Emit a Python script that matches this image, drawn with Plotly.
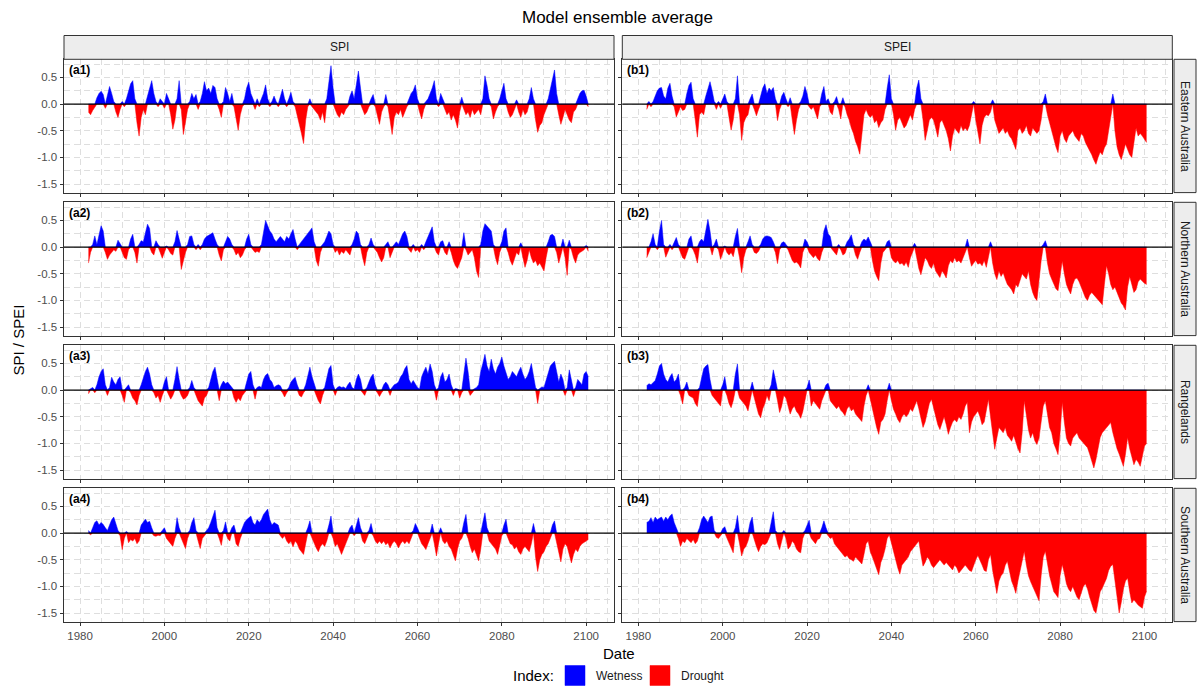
import numpy as np
import plotly.graph_objects as go

# ---------------- data (half-year steps starting 1982.0) ----------------
START_YEAR = 1982.0
STEP_YEARS = 0.5

INDICES = ["SPI", "SPEI"]
REGIONS = ["Eastern Australia", "Northern Australia", "Rangelands", "Southern Australia"]
PANEL_TAGS = [["(a1)", "(b1)"], ["(a2)", "(b2)"], ["(a3)", "(b3)"], ["(a4)", "(b4)"]]
X_TICKS = [1980, 2000, 2020, 2040, 2060, 2080, 2100]
Y_TICKS = [-1.5, -1.0, -0.5, 0.0, 0.5]
LEGEND_TITLE = "Index:"
LEGEND_LABELS = ["Wetness", "Drought"]

spi_eastern = [
    -0.15, -0.20, -0.12, -0.05, 0.12, 0.20, 0.24, 0.18, -0.08, 0.15, 0.33, 0.20, 0.05, -0.15, -0.25, -0.10,
    0.05, -0.05, 0.10, 0.25, 0.38, 0.44, 0.10, -0.35, -0.60, -0.25, -0.10, -0.20, 0.15, 0.30, 0.44, 0.20, 0.05, -0.05, 0.10, 0.05,
    -0.08, 0.20, 0.10, -0.20, -0.47, -0.30, 0.10, 0.44, -0.10, -0.57, -0.30, -0.10, 0.05, 0.20, 0.10, 0.18, -0.10, 0.05, 0.20, 0.42,
    0.25, 0.30, 0.20, 0.35, 0.31, 0.10, -0.10, -0.25, 0.05, 0.31, 0.20, 0.05, 0.20, -0.05, -0.30, -0.49, -0.20, -0.05, 0.10, 0.30,
    0.41, 0.20, 0.10, -0.10, 0.10, -0.05, 0.10, 0.20, 0.36, 0.10, -0.05, 0.05, 0.15, 0.05, -0.05, 0.15, 0.28, 0.10, -0.05, 0.10,
    0.22, 0.05, -0.05, -0.20, -0.35, -0.55, -0.74, -0.30, -0.05, 0.10, -0.05, -0.10, -0.15, -0.20, -0.30, -0.15, -0.35, 0.10, 0.45, 0.72,
    0.30, -0.10, -0.20, -0.25, -0.15, -0.20, -0.10, -0.05, 0.15, 0.25, 0.10, 0.35, 0.62, 0.30, -0.10, -0.20, -0.15, -0.05, 0.10, 0.18,
    -0.05, -0.20, -0.38, -0.15, -0.05, 0.18, -0.05, -0.30, -0.57, -0.25, -0.15, -0.20, -0.10, -0.25, -0.15, -0.05, 0.10, 0.20, 0.25, 0.36,
    0.10, -0.15, -0.28, -0.10, 0.05, 0.10, 0.20, 0.30, 0.44, 0.10, -0.05, 0.20, 0.10, -0.10, -0.20, -0.15, -0.30, -0.20, -0.30, -0.45,
    -0.15, 0.13, -0.10, -0.20, -0.15, -0.25, -0.10, -0.20, -0.15, -0.10, -0.20, 0.10, 0.53, 0.35, 0.10, -0.05, -0.28, -0.15, -0.05, 0.10,
    0.25, 0.39, 0.10, -0.15, -0.25, -0.20, -0.10, 0.08, -0.15, -0.25, -0.10, -0.20, -0.15, 0.10, 0.31, 0.10, -0.30, -0.53, -0.40, -0.35,
    -0.20, -0.10, 0.10, 0.30, 0.45, 0.64, 0.20, -0.20, -0.38, -0.25, -0.10, -0.20, -0.30, -0.35, -0.15, -0.10, 0.10, 0.20, 0.25, 0.26,
    0.15, -0.05,
]

spei_eastern = [
    -0.10, 0.05, -0.05, 0.05, 0.15, 0.25, 0.30, 0.31, 0.15, 0.10, 0.30, 0.39, 0.15, -0.05, -0.24, -0.15,
    -0.05, -0.12, -0.10, 0.20, 0.35, 0.41, 0.10, -0.30, -0.62, -0.20, -0.15, -0.20, 0.15, 0.30, 0.42, 0.25, 0.05, -0.10, 0.05, -0.08,
    0.10, 0.19, 0.05, -0.25, -0.49, -0.30, 0.10, 0.53, -0.20, -0.68, -0.35, -0.25, -0.20, 0.10, 0.19, -0.10, -0.22, -0.10, 0.15, 0.30,
    0.38, 0.20, 0.30, 0.25, 0.31, 0.10, -0.31, -0.10, 0.15, 0.22, 0.10, -0.05, 0.12, -0.30, -0.57, -0.30, -0.10, 0.05, 0.15, 0.33,
    0.20, -0.05, -0.10, -0.05, -0.15, -0.28, -0.05, 0.20, 0.33, 0.05, 0.10, -0.15, -0.20, 0.05, 0.14, -0.10, -0.28, 0.12, -0.05, -0.20,
    -0.30, -0.45, -0.55, -0.70, -0.80, -0.94, -0.50, -0.20, -0.10, -0.20, -0.25, -0.20, -0.35, -0.30, -0.44, -0.35, -0.30, -0.10, 0.30, 0.55,
    0.10, -0.20, -0.49, -0.30, -0.25, -0.35, -0.45, -0.40, -0.30, -0.20, -0.30, -0.10, 0.30, 0.45, 0.10, -0.30, -0.68, -0.50, -0.30, -0.25,
    -0.30, -0.45, -0.62, -0.35, -0.30, -0.40, -0.50, -0.65, -0.88, -0.60, -0.45, -0.50, -0.55, -0.40, -0.50, -0.45, -0.50, -0.40, -0.20, 0.05,
    -0.30, -0.55, -0.75, -0.40, -0.25, -0.20, -0.22, -0.15, 0.08, -0.30, -0.45, -0.55, -0.50, -0.45, -0.55, -0.50, -0.60, -0.65, -0.75, -0.85,
    -0.50, -0.45, -0.55, -0.50, -0.40, -0.55, -0.60, -0.45, -0.50, -0.55, -0.50, -0.30, 0.05, 0.19, -0.20, -0.35, -0.50, -0.70, -0.80, -0.91,
    -0.60, -0.50, -0.65, -0.72, -0.60, -0.55, -0.50, -0.60, -0.65, -0.70, -0.55, -0.60, -0.72, -0.80, -0.85, -0.95, -1.05, -1.13, -1.00, -0.90,
    -0.95, -0.82, -0.75, -0.50, -0.20, 0.19, -0.50, -0.80, -0.95, -1.04, -0.90, -0.75, -0.85, -0.95, -1.00, -0.70, -0.45, -0.60, -0.55, -0.60,
    -0.65, -0.72,
]

spi_northern = [
    -0.30, -0.10, 0.05, 0.21, 0.05, 0.20, 0.40, 0.30, -0.10, -0.23, -0.15, -0.10, -0.05, -0.08, 0.13, 0.05,
    -0.10, -0.20, -0.23, -0.05, 0.15, 0.24, -0.10, -0.30, 0.05, 0.12, 0.10, 0.25, 0.43, 0.35, -0.10, -0.15, 0.12, 0.05, -0.10, -0.21,
    -0.10, 0.02, -0.05, -0.12, -0.15, 0.10, 0.31, 0.15, -0.42, -0.25, -0.10, 0.05, 0.20, 0.21, 0.05, -0.05, 0.05, -0.05, 0.05, 0.15,
    0.20, 0.22, 0.25, 0.27, 0.15, 0.05, -0.15, -0.26, -0.05, 0.10, 0.20, 0.15, 0.05, -0.05, -0.15, -0.10, -0.20, -0.15, -0.05, 0.15,
    0.24, 0.05, -0.05, -0.10, -0.08, -0.10, 0.05, 0.30, 0.50, 0.40, 0.30, 0.25, 0.15, 0.10, 0.15, 0.20, 0.15, 0.10, 0.20, 0.15,
    0.25, 0.33, 0.15, -0.05, 0.05, 0.10, 0.15, 0.20, 0.25, 0.30, 0.36, 0.10, -0.25, -0.36, -0.10, 0.05, 0.10, 0.20, 0.30, 0.25,
    0.05, -0.10, -0.05, -0.15, -0.08, -0.12, -0.05, -0.10, -0.15, 0.05, 0.15, 0.30, 0.25, 0.05, -0.20, -0.35, -0.10, 0.05, 0.17, 0.05,
    -0.05, -0.10, -0.20, -0.28, -0.20, 0.05, 0.10, -0.20, -0.10, 0.05, 0.10, 0.05, 0.15, 0.25, 0.30, 0.20, -0.05, -0.10, 0.05, -0.08,
    -0.05, -0.10, 0.05, -0.05, 0.10, 0.20, 0.30, 0.38, 0.10, -0.10, -0.15, 0.10, 0.12, -0.10, -0.15, 0.10, -0.10, -0.25, -0.35, -0.40,
    -0.30, -0.20, 0.27, -0.05, -0.15, -0.10, -0.05, -0.20, -0.45, -0.57, 0.05, 0.30, 0.44, 0.40, 0.35, 0.30, 0.05, -0.20, -0.33, -0.10,
    0.10, 0.30, 0.36, -0.10, -0.25, -0.34, -0.20, -0.10, -0.15, 0.08, -0.20, -0.38, -0.25, -0.05, -0.20, -0.30, -0.25, -0.35, -0.30, -0.38,
    -0.45, -0.20, 0.10, 0.22, 0.24, 0.20, -0.10, -0.30, -0.15, 0.15, -0.20, -0.53, 0.13, -0.05, -0.20, -0.30, -0.15, -0.10, -0.08, -0.05,
    0.03, -0.08,
]

spei_northern = [
    -0.20, -0.10, 0.10, 0.25, 0.05, -0.05, 0.30, 0.50, 0.05, -0.19, -0.10, 0.05, -0.05, 0.10, 0.18, 0.05,
    -0.10, -0.20, -0.23, -0.10, 0.15, 0.21, -0.05, -0.15, -0.30, 0.10, 0.15, 0.10, 0.30, 0.52, 0.30, -0.15, 0.05, 0.15, -0.05, -0.23,
    -0.10, 0.02, -0.10, -0.15, -0.10, -0.18, 0.20, 0.35, -0.20, -0.48, -0.20, -0.05, 0.10, 0.21, 0.05, -0.10, -0.12, -0.08, 0.05, 0.15,
    0.20, 0.21, 0.20, 0.18, 0.10, -0.10, -0.31, -0.05, 0.08, 0.10, 0.05, -0.05, -0.15, -0.25, -0.30, -0.28, -0.32, -0.39, -0.10, 0.15,
    0.10, -0.10, -0.15, -0.20, -0.15, -0.22, -0.26, -0.10, 0.30, 0.42, 0.25, 0.20, -0.05, -0.10, -0.15, 0.05, -0.05, -0.15, -0.12, 0.10,
    0.15, 0.23, 0.05, -0.15, -0.23, -0.10, 0.10, 0.15, 0.12, 0.19, 0.10, -0.25, -0.45, -0.55, -0.63, -0.30, -0.10, -0.05, 0.10, 0.13,
    -0.20, -0.26, -0.30, -0.25, -0.32, -0.30, -0.35, -0.28, -0.38, -0.20, -0.10, 0.07, -0.20, -0.40, -0.52, -0.35, -0.20, -0.25, -0.35, -0.40,
    -0.30, -0.45, -0.50, -0.57, -0.45, -0.50, -0.58, -0.35, -0.25, -0.30, -0.20, -0.28, -0.25, -0.30, -0.20, -0.10, 0.15, -0.20, -0.36, -0.30,
    -0.25, -0.32, -0.30, -0.35, -0.25, -0.38, -0.20, 0.10, -0.30, -0.50, -0.61, -0.45, -0.55, -0.48, -0.60, -0.70, -0.75, -0.80, -0.88, -0.70,
    -0.75, -0.60, -0.50, -0.55, -0.60, -0.45, -0.70, -0.85, -0.95, -1.00, -0.60, -0.26, 0.05, 0.12, -0.30, -0.50, -0.60, -0.70, -0.78, -0.82,
    -0.50, -0.26, -0.50, -0.70, -0.80, -0.88, -0.70, -0.60, -0.58, -0.65, -0.75, -0.85, -0.95, -1.00, -0.90, -0.85, -0.90, -0.95, -1.00, -1.05,
    -1.08, -0.70, -0.35, -0.50, -0.70, -0.80, -0.75, -0.85, -0.95, -1.05, -1.10, -1.18, -0.75, -0.55, -0.70, -0.85, -0.80, -0.65, -0.60, -0.65,
    -0.68, -0.70,
]

spi_rangelands = [
    -0.07, 0.03, 0.05, -0.05, 0.10, 0.25, 0.35, 0.40, 0.10, -0.10, 0.05, 0.24, 0.15, 0.10, 0.20, 0.25,
    -0.10, -0.23, 0.05, 0.10, -0.05, -0.15, -0.20, -0.28, -0.10, 0.10, 0.25, 0.35, 0.43, 0.30, 0.10, -0.05, -0.15, -0.10, -0.23, -0.10,
    0.15, 0.25, -0.10, -0.17, -0.10, 0.20, 0.44, 0.20, -0.10, -0.17, -0.15, -0.10, 0.05, 0.18, 0.05, -0.10, -0.20, -0.25, -0.30, -0.15,
    -0.10, 0.05, 0.20, 0.35, 0.43, 0.20, -0.20, 0.10, 0.17, 0.12, 0.15, 0.10, 0.05, -0.15, -0.23, -0.15, -0.20, -0.10, -0.05, 0.15,
    0.30, 0.35, 0.10, -0.17, 0.05, 0.07, 0.05, 0.20, 0.28, 0.31, 0.20, 0.15, 0.05, 0.08, 0.10, 0.08, -0.05, -0.13, -0.05, 0.05,
    0.15, 0.20, 0.24, 0.10, -0.10, -0.13, -0.05, 0.10, 0.30, 0.43, 0.25, 0.10, -0.10, -0.20, -0.26, -0.10, 0.05, 0.20, 0.40, 0.46,
    0.10, -0.10, 0.05, 0.07, 0.05, 0.06, 0.03, 0.10, 0.15, 0.05, 0.02, 0.20, 0.30, 0.20, -0.05, -0.10, 0.05, 0.15, 0.25, 0.30,
    0.10, -0.05, -0.12, -0.05, 0.10, 0.15, 0.10, -0.10, 0.05, 0.10, 0.12, 0.15, 0.25, 0.30, 0.40, 0.46, 0.20, 0.12, 0.18, 0.10,
    0.05, 0.02, 0.25, 0.35, 0.43, 0.30, 0.49, 0.35, 0.10, -0.19, 0.05, 0.25, 0.33, 0.15, 0.20, 0.30, 0.10, -0.10, 0.03, 0.02,
    -0.15, -0.05, 0.30, 0.60, 0.35, -0.10, -0.05, 0.02, 0.05, 0.10, 0.35, 0.50, 0.67, 0.45, 0.35, 0.58, 0.40, 0.30, 0.43, 0.50,
    0.62, 0.45, 0.30, 0.20, 0.25, 0.35, 0.30, 0.25, 0.35, 0.43, 0.30, 0.20, 0.25, 0.35, 0.50, 0.30, 0.05, -0.25, 0.03, 0.06,
    0.05, 0.20, 0.35, 0.45, 0.50, 0.54, 0.35, 0.15, 0.30, 0.20, -0.10, 0.05, 0.38, 0.20, -0.12, 0.05, 0.20, 0.15, 0.10, 0.30,
    0.35, 0.25,
]

spei_rangelands = [
    0.08, 0.12, 0.10, 0.15, 0.18, 0.30, 0.45, 0.50, 0.30, 0.20, 0.15, 0.25, 0.31, 0.15, 0.20, 0.30,
    -0.10, -0.26, 0.05, 0.15, -0.10, -0.12, -0.15, -0.25, -0.31, 0.05, 0.25, 0.40, 0.45, 0.48, 0.20, -0.10, -0.15, -0.20, -0.25, -0.30,
    0.10, 0.25, -0.10, -0.25, -0.33, -0.20, 0.30, 0.49, -0.15, -0.20, -0.25, -0.30, -0.39, -0.20, 0.15, -0.15, -0.30, -0.45, -0.52, -0.35,
    -0.25, -0.10, -0.20, 0.10, 0.38, 0.20, -0.20, -0.42, -0.30, -0.10, -0.15, -0.30, -0.45, -0.35, -0.30, -0.40, -0.45, -0.53, -0.40, -0.20,
    0.05, 0.19, -0.30, -0.20, -0.25, -0.30, -0.36, -0.20, -0.10, 0.10, 0.13, -0.20, -0.25, -0.30, -0.35, -0.30, -0.38, -0.42, -0.48, -0.35,
    -0.30, -0.39, -0.35, -0.45, -0.50, -0.55, -0.59, -0.30, -0.10, 0.10, -0.17, -0.40, -0.55, -0.70, -0.83, -0.60, -0.55, -0.45, -0.20, 0.13,
    -0.20, -0.36, -0.45, -0.55, -0.61, -0.50, -0.45, -0.50, -0.45, -0.35, -0.40, -0.30, -0.20, -0.35, -0.50, -0.70, -0.60, -0.40, -0.25, -0.17,
    -0.35, -0.50, -0.65, -0.74, -0.60, -0.50, -0.65, -0.83, -0.70, -0.60, -0.55, -0.60, -0.50, -0.55, -0.45, -0.30, -0.23, -0.80, -0.60, -0.50,
    -0.45, -0.39, -0.50, -0.65, -0.60, -0.40, -0.17, -0.50, -0.80, -1.11, -0.90, -0.70, -0.75, -0.80, -0.70, -0.85, -0.90, -0.96, -0.85, -1.00,
    -1.10, -1.18, -0.80, -0.20, -0.50, -0.75, -0.90, -0.80, -0.95, -1.02, -0.90, -0.60, -0.30, -0.20, -0.50, -0.70, -0.80, -1.00, -1.10, -1.21,
    -0.80, -0.23, -0.60, -0.90, -1.00, -1.05, -0.90, -0.85, -0.80, -0.90, -0.95, -1.00, -1.05, -1.08, -1.20, -1.35, -1.46, -1.30, -1.10, -0.89,
    -0.80, -0.75, -0.70, -0.65, -0.61, -0.80, -0.96, -1.10, -1.20, -1.30, -1.43, -1.20, -0.89, -1.10, -1.25, -1.40, -1.30, -1.35, -1.43, -1.20,
    -1.05, -1.00,
]

spi_southern = [
    0.05, -0.03, 0.10, 0.20, 0.23, 0.15, 0.20, 0.16, 0.10, 0.05, 0.15, 0.25, 0.30, 0.15, 0.05, -0.05,
    -0.31, -0.10, 0.03, -0.18, -0.12, -0.15, -0.10, -0.20, -0.15, 0.15, 0.20, 0.26, 0.20, 0.22, 0.10, -0.05, -0.06, -0.04, -0.05, 0.05,
    0.10, -0.10, -0.15, -0.20, -0.25, -0.10, 0.29, 0.10, -0.10, -0.20, -0.29, -0.10, 0.05, 0.20, 0.29, 0.05, -0.15, -0.29, -0.10, -0.05,
    0.05, 0.10, 0.20, 0.30, 0.43, 0.10, -0.10, -0.23, 0.05, 0.21, -0.10, -0.15, 0.10, 0.15, -0.20, -0.25, -0.10, 0.10, 0.20, 0.25,
    0.28, 0.32, 0.20, 0.15, 0.25, 0.20, 0.25, 0.35, 0.40, 0.45, 0.25, 0.15, 0.20, 0.18, 0.15, -0.05, -0.10, -0.05, -0.15, -0.20,
    -0.15, -0.26, -0.15, -0.20, -0.30, -0.35, -0.40, -0.20, 0.10, 0.23, -0.10, -0.20, -0.28, -0.35, -0.25, -0.20, -0.25, -0.15, 0.15, 0.32,
    -0.10, -0.25, -0.20, -0.30, -0.40, -0.30, -0.20, -0.10, 0.10, 0.15, -0.05, 0.15, 0.29, 0.10, -0.15, -0.20, -0.10, 0.05, 0.18, -0.05,
    -0.15, -0.20, -0.15, -0.20, -0.15, -0.22, -0.18, -0.28, -0.20, -0.15, -0.20, -0.28, -0.20, -0.15, -0.20, -0.15, -0.20, -0.10, 0.05, 0.18,
    0.10, -0.10, -0.20, -0.25, -0.31, -0.20, -0.10, 0.17, -0.20, -0.43, -0.20, 0.10, -0.15, -0.20, -0.15, -0.25, -0.30, -0.40, -0.52, -0.30,
    -0.15, -0.10, 0.20, 0.35, -0.10, -0.25, -0.37, -0.30, -0.40, -0.52, -0.30, 0.20, 0.38, 0.10, -0.15, -0.20, -0.25, -0.30, -0.40, -0.20,
    -0.05, 0.15, 0.26, -0.10, -0.20, -0.22, -0.30, -0.25, -0.35, -0.40, -0.30, -0.25, -0.30, -0.35, -0.20, 0.18, -0.45, -0.72, -0.50, -0.40,
    -0.35, -0.25, -0.20, -0.10, 0.15, 0.23, -0.20, -0.35, -0.54, -0.30, -0.20, -0.25, -0.40, -0.56, -0.40, -0.30, -0.35, -0.25, -0.20, -0.18,
    -0.15, -0.12,
]

spei_southern = [
    0.20, 0.22, 0.29, 0.20, 0.30, 0.25, 0.28, 0.30, 0.22, 0.30, 0.25, 0.32, 0.36, 0.20, 0.10, -0.10,
    -0.25, -0.15, -0.18, -0.10, -0.15, -0.18, -0.12, -0.20, -0.15, 0.10, 0.25, 0.32, 0.25, 0.20, 0.30, 0.32, 0.05, -0.08, -0.10, -0.05,
    0.08, 0.12, -0.10, -0.20, -0.30, -0.37, 0.10, 0.33, -0.20, -0.43, -0.30, -0.25, -0.15, 0.20, 0.30, -0.15, -0.25, -0.35, -0.25, -0.20,
    -0.22, -0.18, -0.10, 0.20, 0.40, 0.05, -0.20, -0.31, -0.15, 0.05, -0.10, -0.30, -0.25, -0.15, -0.20, -0.30, -0.35, -0.37, -0.10, 0.05,
    0.15, 0.24, -0.10, -0.15, -0.20, -0.12, -0.10, 0.10, 0.23, 0.10, -0.05, -0.10, -0.08, -0.20, -0.25, -0.30, -0.37, -0.40, -0.45, -0.42,
    -0.48, -0.50, -0.53, -0.45, -0.50, -0.55, -0.58, -0.40, -0.20, -0.15, -0.35, -0.45, -0.55, -0.65, -0.78, -0.55, -0.45, -0.30, -0.10, -0.03,
    -0.20, -0.35, -0.50, -0.65, -0.77, -0.60, -0.55, -0.50, -0.45, -0.35, -0.30, -0.25, -0.20, -0.15, -0.40, -0.62, -0.55, -0.45, -0.50, -0.60,
    -0.65, -0.60, -0.55, -0.50, -0.55, -0.60, -0.55, -0.60, -0.65, -0.69, -0.60, -0.65, -0.75, -0.70, -0.65, -0.60, -0.65, -0.70, -0.72, -0.60,
    -0.50, -0.42, -0.50, -0.60, -0.70, -0.72, -0.50, -0.40, -0.70, -0.95, -1.13, -0.90, -0.80, -0.75, -0.60, -0.53, -0.70, -0.90, -1.00, -1.13,
    -0.90, -0.70, -0.50, -0.34, -0.60, -0.80, -0.91, -1.00, -1.10, -1.20, -1.27, -0.80, -0.45, -0.34, -0.60, -0.80, -0.95, -1.10, -1.15, -1.21,
    -0.80, -0.59, -0.75, -0.95, -1.05, -1.10, -1.00, -1.10, -1.20, -1.25, -1.10, -1.00, -0.95, -1.05, -1.20, -1.35, -1.45, -1.50, -1.30, -1.10,
    -1.03, -0.95, -0.85, -0.70, -0.62, -0.59, -0.90, -1.20, -1.50, -1.30, -1.05, -0.90, -0.84, -1.10, -1.31, -1.25, -1.31, -1.35, -1.38, -1.41,
    -1.20, -1.09,
]

SERIES = [
    [spi_eastern, spei_eastern],
    [spi_northern, spei_northern],
    [spi_rangelands, spei_rangelands],
    [spi_southern, spei_southern],
]

# ---------------- styling / layout ----------------
W, H = 1202, 688
FONT = "Liberation Sans, Arial, Helvetica, sans-serif"
BLUE = "#0000FF"
RED = "#FF0000"
GRID = "#DEDEDE"
BORDER = "#333333"
STRIP_FILL = "#EDEDED"

COL_X = [(64.0, 614.0), (622.3, 1172.3)]
ROW_Y = [(59.3, 192.6), (202.3, 335.6), (345.3, 478.6), (488.3, 621.6)]
TOP_STRIP_Y = (35.5, 59.3)
RIGHT_STRIP_X = (1174.0, 1196.0)
X_RANGE = [1976.2, 2106.6]
Y_RANGE = [-1.66, 0.84]


def fx(px):
    return px / W


def fy(py):
    return 1 - py / H


fig = go.Figure()
shapes = []
annotations = []
layout_axes = {}

for r in range(4):
    for c in range(2):
        n = r * 2 + c + 1
        sfx = "" if n == 1 else str(n)
        xa, ya = "x" + sfx, "y" + sfx
        vals = np.array(SERIES[r][c], dtype=float)
        t = START_YEAR + STEP_YEARS * np.arange(len(vals))
        pos = np.clip(vals, 0, None)
        neg = np.clip(vals, None, 0)
        fig.add_trace(go.Scatter(x=t, y=neg, mode="lines", fill="tozeroy",
                                 fillcolor=RED, line=dict(color=RED, width=0.5),
                                 xaxis=xa, yaxis=ya, showlegend=False, hoverinfo="skip"))
        fig.add_trace(go.Scatter(x=t, y=pos, mode="lines", fill="tozeroy",
                                 fillcolor=BLUE, line=dict(color=BLUE, width=0.5),
                                 xaxis=xa, yaxis=ya, showlegend=False, hoverinfo="skip"))

        x0, x1 = COL_X[c]
        y0, y1 = ROW_Y[r]
        layout_axes["xaxis" + sfx] = dict(
            domain=[fx(x0), fx(x1)], anchor=ya, range=X_RANGE,
            tickmode="array", tickvals=X_TICKS, ticktext=[str(v) for v in X_TICKS],
            showticklabels=(r == 3), ticks="outside", ticklen=3.5, tickwidth=1,
            tickcolor=BORDER, tickfont=dict(family=FONT, size=11.5, color="#4D4D4D"),
            showgrid=True, gridcolor=GRID, gridwidth=0.8, griddash="6px,4px",
            minor=dict(tick0=1980, dtick=5, showgrid=True, gridcolor=GRID,
                       gridwidth=0.6, griddash="6px,4px"),
            showline=True, mirror=True, linecolor=BORDER, linewidth=1,
            zeroline=False,
        )
        layout_axes["yaxis" + sfx] = dict(
            domain=[fy(y1), fy(y0)], anchor=xa, range=Y_RANGE,
            tickmode="array", tickvals=Y_TICKS, ticktext=[f"{v:.1f}" for v in Y_TICKS],
            showticklabels=(c == 0), ticks="outside", ticklen=3.5, tickwidth=1,
            tickcolor=BORDER, tickfont=dict(family=FONT, size=11.5, color="#4D4D4D"),
            showgrid=True, gridcolor=GRID, gridwidth=0.8, griddash="6px,4px",
            minor=dict(tick0=0, dtick=0.25, showgrid=True, gridcolor=GRID,
                       gridwidth=0.6, griddash="6px,4px"),
            showline=True, mirror=True, linecolor=BORDER, linewidth=1,
            zeroline=False,
        )
        # zero reference line
        shapes.append(dict(type="line", xref=xa + " domain", x0=0, x1=1,
                           yref=ya, y0=0, y1=0, layer="above",
                           line=dict(color="black", width=1.3)))
        # panel tag
        annotations.append(dict(text="<b>" + PANEL_TAGS[r][c] + "</b>", xref="paper", yref="paper",
                                x=fx(x0 + 3), y=fy(y0 + 1.5), xanchor="left", yanchor="top",
                                showarrow=False, font=dict(family=FONT, size=12, color="black")))

# top strips
for c, name in enumerate(INDICES):
    x0, x1 = COL_X[c]
    shapes.append(dict(type="rect", xref="paper", yref="paper",
                       x0=fx(x0), x1=fx(x1), y0=fy(TOP_STRIP_Y[1]), y1=fy(TOP_STRIP_Y[0]),
                       fillcolor=STRIP_FILL, line=dict(color=BORDER, width=1)))
    annotations.append(dict(text=name, xref="paper", yref="paper",
                            x=fx((x0 + x1) / 2), y=fy(sum(TOP_STRIP_Y) / 2),
                            xanchor="center", yanchor="middle", showarrow=False,
                            font=dict(family=FONT, size=12, color="#1A1A1A")))

# right strips
for r, name in enumerate(REGIONS):
    y0, y1 = ROW_Y[r]
    shapes.append(dict(type="rect", xref="paper", yref="paper",
                       x0=fx(RIGHT_STRIP_X[0]), x1=fx(RIGHT_STRIP_X[1]), y0=fy(y1), y1=fy(y0),
                       fillcolor=STRIP_FILL, line=dict(color=BORDER, width=1)))
    annotations.append(dict(text=name, xref="paper", yref="paper",
                            x=fx(sum(RIGHT_STRIP_X) / 2), y=fy((y0 + y1) / 2),
                            xanchor="center", yanchor="middle", showarrow=False, textangle=90,
                            font=dict(family=FONT, size=12, color="#1A1A1A")))

# titles
annotations.append(dict(text="Model ensemble average", xref="paper", yref="paper",
                        x=fx(617), y=fy(17), xanchor="center", yanchor="middle",
                        showarrow=False, font=dict(family=FONT, size=17, color="black")))
annotations.append(dict(text="SPI / SPEI", xref="paper", yref="paper",
                        x=fx(18), y=fy(340.5), xanchor="center", yanchor="middle",
                        textangle=-90, showarrow=False, font=dict(family=FONT, size=15, color="black")))
annotations.append(dict(text="Date", xref="paper", yref="paper",
                        x=fx(618.5), y=fy(653), xanchor="center", yanchor="middle",
                        showarrow=False, font=dict(family=FONT, size=15, color="black")))

# legend (drawn manually, ggplot-style at bottom)
annotations.append(dict(text=LEGEND_TITLE, xref="paper", yref="paper",
                        x=fx(556), y=fy(675.5), xanchor="right", yanchor="middle",
                        showarrow=False, font=dict(family=FONT, size=15, color="black")))
legend_boxes = [(565, 585), (650, 670)]
for (bx0, bx1), label, col in zip(legend_boxes, LEGEND_LABELS, [BLUE, RED]):
    shapes.append(dict(type="rect", xref="paper", yref="paper",
                       x0=fx(bx0), x1=fx(bx1), y0=fy(685.5), y1=fy(665.5),
                       fillcolor=col, line=dict(color=col, width=0.5)))
    annotations.append(dict(text=label, xref="paper", yref="paper",
                            x=fx(bx1 + 9), y=fy(675.5), xanchor="left", yanchor="middle",
                            showarrow=False, font=dict(family=FONT, size=12, color="#1A1A1A")))

fig.update_layout(
    width=W, height=H, autosize=False,
    margin=dict(l=0, r=0, t=0, b=0),
    paper_bgcolor="white", plot_bgcolor="white",
    showlegend=False,
    shapes=shapes, annotations=annotations,
    font=dict(family=FONT),
    **layout_axes,
)

fig.write_html("out.html")
